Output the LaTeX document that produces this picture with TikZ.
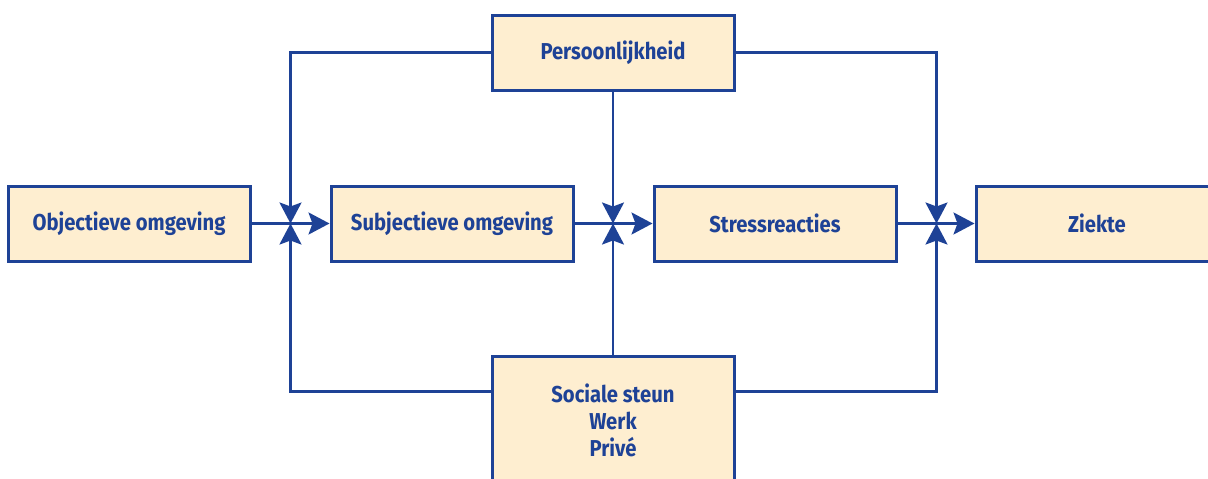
\documentclass[tikz,border=0pt]{standalone}
\usepackage{fontspec}
\newfontfamily\lblfont{Fira Sans}[FakeStretch=0.88]
\usetikzlibrary{arrows.meta}
\definecolor{lineblue}{RGB}{30,66,150}
\definecolor{boxfill}{RGB}{254,238,208}
\tikzset{
  stage/.style={draw=lineblue, line width=3pt, fill=boxfill, minimum width=242pt,
    minimum height=75pt, inner sep=0pt, align=center, text=lineblue,
    font=\lblfont\bfseries\fontsize{23}{27}\selectfont},
  link/.style={draw=lineblue, line width=2.6pt,
    -{Stealth[length=21pt,width=22pt,inset=4pt]}}
}
\begin{document}
\begin{tikzpicture}[x=1pt,y=-1pt]
  \useasboundingbox (0,0) rectangle (1208,479);
  \clip (0,0) rectangle (1208,479);

  % main chain
  \node[stage] (obj) at (129,223.5) {Objectieve omgeving};
  \node[stage] (subj) at (452,223.5) {Subjectieve omgeving};
  \node[stage] (stress) at (775,223.5) {Stressreacties};
  \node[stage] (ziek) at (1097,223.5) {Ziekte};

  % moderators
  \node[stage] (pers) at (613,52.5) {Persoonlijkheid};
  \node[stage, minimum height=128pt] (soc) at (613,420) {Sociale steun\\Werk\\Privé};

  % junctions between the boxes of the chain
  \coordinate (j1) at (290.5,223.5);
  \coordinate (j2) at (613,223.5);
  \coordinate (j3) at (936.5,223.5);
  \coordinate (sl) at ([yshift=-37pt]soc.north west);
  \coordinate (sr) at ([yshift=-37pt]soc.north east);

  % horizontal flow
  \draw[link] (obj.east) -- (subj.west);
  \draw[link] (subj.east) -- (stress.west);
  \draw[link] (stress.east) -- (ziek.west);

  % influence of personality
  \draw[link] (pers.west) -| (j1);
  \draw[link] (pers.south) -- (j2);
  \draw[link] (pers.east) -| (j3);

  % influence of social support
  \draw[link] (sl) -| (j1);
  \draw[link] (soc.north) -- (j2);
  \draw[link] (sr) -| (j3);

  % redraw the support box over the line ends
  \node[stage, minimum height=128pt] at (613,420) {Sociale steun\\Werk\\Privé};
\end{tikzpicture}
\end{document}
